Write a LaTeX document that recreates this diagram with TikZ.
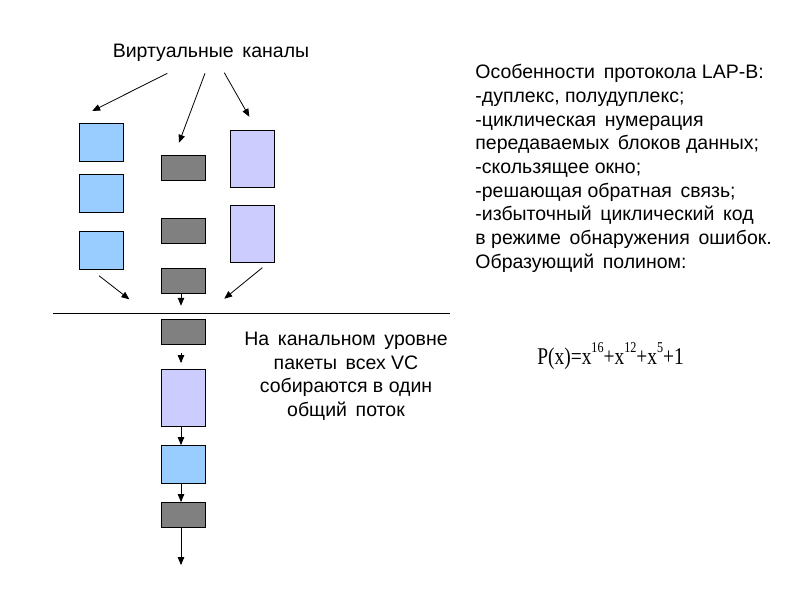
\documentclass[tikz,border=0pt]{standalone}
\usepackage{fontspec}
\setmainfont{Liberation Sans}
\newfontfamily\timesfont{Liberation Serif}
\usepackage{tikz}
\usetikzlibrary{arrows}
\usetikzlibrary{positioning}

\definecolor{vcblue}{HTML}{99CCFF}
\definecolor{vcgray}{HTML}{808080}
\definecolor{vclilac}{HTML}{CCCCFF}

\newcommand{\polysup}[1]{\raisebox{12pt}{\fontsize{15}{15}\selectfont #1}}

\tikzset{
    packet/.style={draw, line width=0.8pt, inner sep=0pt, minimum width=44pt},
    bluepacket/.style={packet, fill=vcblue, minimum height=38pt},
    graypacket/.style={packet, fill=vcgray, minimum height=25pt},
    lilacpacket/.style={packet, fill=vclilac, minimum height=57pt},
    caption/.style={inner sep=0pt, font=\fontsize{19.5}{23.7}\selectfont}
}

\begin{document}
\begin{tikzpicture}[x=1pt, y=-1pt, -triangle 45, line width=0.8pt]
        \useasboundingbox (0,0) rectangle (800,600);

        % virtual channels
        \node [caption] (vc) at (211,53) {Виртуальные\, каналы};
        \node [bluepacket] (a1) at (101.3,142.2) {};
        \node [bluepacket] (a2) at (101.3,193.3) {};
        \node [bluepacket] (a3) at (101.3,250.3) {};
        \node [graypacket] (b1) at (183.3,167.8) {};
        \node [graypacket] (b2) at (183.3,230.8) {};
        \node [graypacket] (b3) at (183.3,281.3) {};
        \node [lilacpacket] (c1) at (252.3,158.5) {};
        \node [lilacpacket] (c2) at (252.3,234) {};

        \coordinate (vcl) at (167.3,73.3);
        \coordinate (vcm) at (205,73.3);
        \coordinate (vcr) at (224.3,72.7);
        \coordinate (toa) at (92.3,111);
        \coordinate (tob) at (179,142.7);
        \coordinate (toc) at (249.3,116.7);
        \draw (vcl) -- (toa);
        \draw (vcm) -- (tob);
        \draw (vcr) -- (toc);

        % merge into the link
        \coordinate (froma) at (99,275.7);
        \coordinate (fromc) at (262.3,267.7);
        \coordinate (ina) at (129.3,299.3);
        \coordinate (inb) at (181,305.7);
        \coordinate (inc) at (224.3,298.7);
        \draw (froma) -- (ina);
        \draw (b3.south -| inb) -- (inb);
        \draw (fromc) -- (inc);

        \coordinate (lineleft) at (53,313);
        \coordinate (lineright) at (450,313);
        \draw [-] (lineleft) -- (lineright);

        % common stream
        \node [graypacket] (s1) at (183.3,331.7) {};
        \node [lilacpacket] (s2) at (183.3,397.8) {};
        \node [bluepacket] (s3) at (183.3,464.3) {};
        \node [graypacket] (s4) at (183.3,515) {};
        \coordinate (s1a) at (181,353);
        \coordinate (s1b) at (181,363);
        \coordinate (s2b) at (181,445);
        \coordinate (s3b) at (181,502);
        \coordinate (out) at (181,565);
        \draw (s1a) -- (s1b);
        \draw (s2.south -| s2b) -- (s2b);
        \draw (s3.south -| s3b) -- (s3b);
        \draw (s4.south -| out) -- (out);

        \node [caption, align=center, anchor=north] (merge) at (346,331.5)
            {На\, канальном\, уровне\\пакеты\, всех VC\\собираются в один\\общий\, поток};

        % protocol features
        \node [caption, align=left, anchor=north west] (lapb) at (475,64)
            {Особенности\, протокола LAP-B:\\-дуплекс, полудуплекс;\\-циклическая\, нумерация\\передаваемых\, блоков данных;\\-скользящее окно;\\-решающая обратная\, связь;\\-избыточный\, циклический\, код\\в режиме\, обнаружения\, ошибок.\\Образующий\, полином:};

        \node [inner sep=0pt, anchor=base west, xscale=0.81, font=\timesfont\fontsize{24}{28}\selectfont] (poly) at (537,364.5)
            {P(x)=x\polysup{16}+x\polysup{12}+x\polysup{5}+1};
    \end{tikzpicture}
\end{document}
